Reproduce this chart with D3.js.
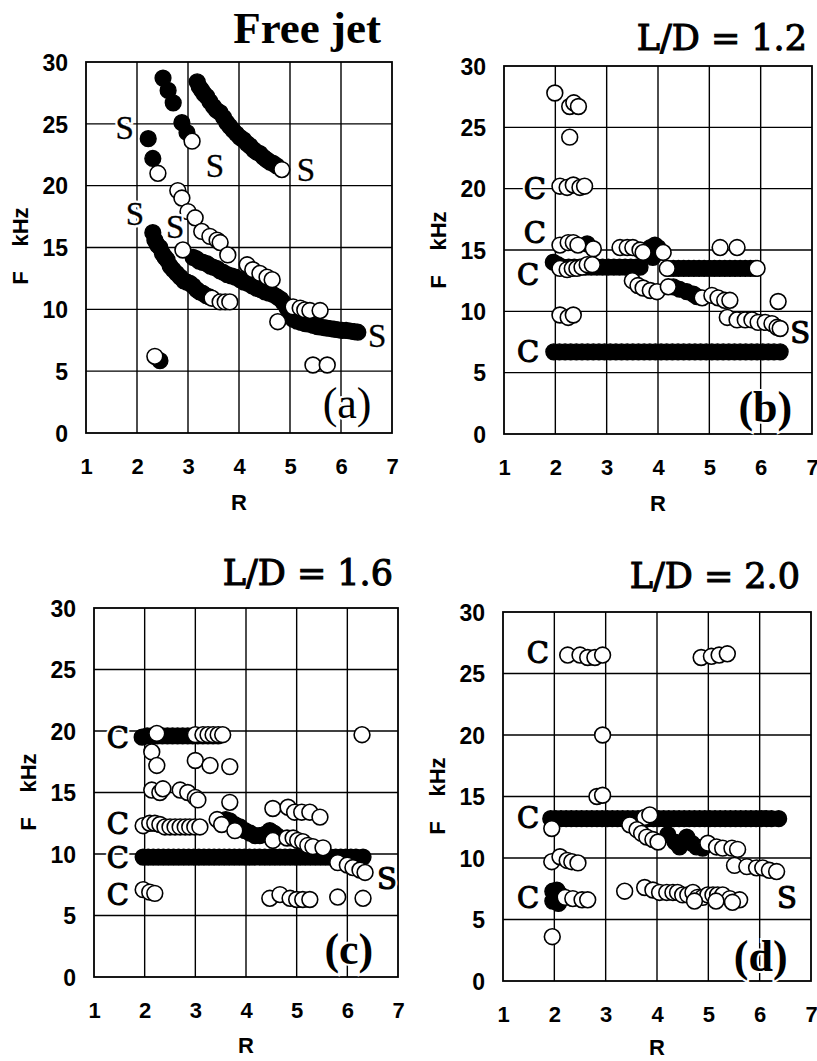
<!DOCTYPE html>
<html>
<head>
<meta charset="utf-8">
<script src="https://cdn.jsdelivr.net/npm/d3@7"></script>
<style>
  html, body { margin: 0; padding: 0; background: #fff; }
  svg { display: block; }
</style>
</head>
<body>
<svg id="chart" width="817" height="1061"></svg>
<script>
// ---------------- DATA ----------------
const xTicks = [1, 2, 3, 4, 5, 6, 7];
const yTicks = [0, 5, 10, 15, 20, 25, 30];
const panelTitles = ["Free jet", "L/D = 1.2", "L/D = 1.6", "L/D = 2.0"];
const panelTags = ["(a)", "(b)", "(c)", "(d)"];
const xLabel = "R";
const yLabelF = "F";
const yLabelUnit = "kHz";

// (a) Free jet : [R, F kHz]
const aFilled = [
  [2.51,28.7],[2.61,27.7],[2.71,26.7],[2.88,25.1],[2.98,24.3],
  [2.22,23.8],[2.31,22.2],
  [3.18,28.4],[3.22,28.0],[3.27,27.7],[3.32,27.4],[3.37,27.2],[3.43,26.8],[3.50,26.4],[3.56,26.1],
  [3.63,25.9],[3.70,25.5],[3.76,25.1],[3.82,24.8],[3.88,24.5],[3.95,24.2],[4.02,23.9],[4.09,23.7],
  [4.16,23.4],[4.22,23.2],[4.29,22.9],[4.35,22.7],[4.41,22.6],[4.48,22.3],[4.54,22.1],[4.61,21.9],
  [4.67,21.8],[4.74,21.6],
  [2.31,16.2],[2.35,15.6],[2.40,15.2],[2.45,15.0],[2.50,14.5],[2.55,14.2],[2.59,14.0],[2.65,13.5],
  [2.71,13.2],[2.78,12.9],[2.85,12.6],[2.92,12.3],[2.98,12.2],[3.04,12.1],[3.10,11.9],[3.17,11.6],
  [3.23,11.4],[3.29,11.3],[3.36,11.1],[3.42,11.0],
  [3.10,14.2],[3.16,14.1],[3.22,13.9],[3.29,13.8],[3.37,13.7],[3.44,13.5],[3.50,13.4],[3.57,13.3],
  [3.63,13.1],[3.69,13.0],[3.77,12.8],[3.85,12.7],[3.93,12.6],[4.02,12.4],[4.10,12.2],[4.18,12.1],
  [4.26,11.9],[4.35,11.7],[4.43,11.6],[4.51,11.4],[4.59,11.3],[4.67,11.2],[4.75,11.0],[4.82,10.8],
  [4.88,10.5],[4.94,10.1],[5.00,9.7],[5.06,9.2],[5.14,9.05],[5.22,8.95],[5.30,8.85],[5.38,8.8],
  [5.46,8.7],[5.54,8.6],[5.62,8.55],[5.70,8.5],[5.78,8.45],[5.86,8.4],[5.94,8.35],[6.02,8.3],
  [6.10,8.3],[6.18,8.25],[6.26,8.2],[6.33,8.15],
  [2.45,5.85]
];
const aOpen = [
  [3.08,23.6],[2.41,21.0],[4.84,21.3],
  [2.80,19.6],[2.88,19.0],[3.00,17.9],[3.14,17.4],[3.27,16.3],[3.43,15.9],[3.57,15.6],[3.63,15.4],
  [3.78,14.4],[4.16,13.6],[4.27,13.2],[4.41,12.9],[4.55,12.6],[4.65,12.4],
  [2.90,14.8],
  [3.47,10.9],[3.63,10.6],[3.73,10.6],[3.82,10.6],
  [5.06,10.2],[5.20,10.1],[5.29,9.95],[5.39,9.9],[5.59,9.9],
  [4.76,9.0],
  [2.35,6.2],
  [5.45,5.5],[5.73,5.5]
];
const aNotes = [
  {t:"S", r:1.76, f:24.7},{t:"S", r:3.53, f:21.7},{t:"S", r:5.31, f:21.3},
  {t:"S", r:1.96, f:17.8},{t:"S", r:2.75, f:16.7},{t:"S", r:6.71, f:7.9}
];

// (b) L/D = 1.2
const bFilled = [
  [1.97,6.7],[2.08,6.7],[2.19,6.7],[2.30,6.7],[2.41,6.7],[2.52,6.7],[2.63,6.7],[2.74,6.7],[2.85,6.7],
  [2.96,6.7],[3.07,6.7],[3.18,6.7],[3.29,6.7],[3.40,6.7],[3.51,6.7],[3.62,6.7],[3.73,6.7],[3.84,6.7],
  [3.95,6.7],[4.06,6.7],[4.17,6.7],[4.28,6.7],[4.39,6.7],[4.50,6.7],[4.61,6.7],[4.72,6.7],[4.83,6.7],
  [4.94,6.7],[5.05,6.7],[5.16,6.7],[5.27,6.7],[5.38,6.7],[5.49,6.7],[5.60,6.7],[5.71,6.7],[5.82,6.7],
  [5.93,6.7],[6.04,6.7],[6.15,6.7],[6.26,6.7],[6.38,6.7],
  [1.96,14.0],[2.05,13.8],[2.15,13.6],[2.26,13.6],[2.37,13.6],[2.48,13.6],[2.59,13.6],[2.70,13.6],
  [2.81,13.6],[2.92,13.6],[3.03,13.6],[3.14,13.6],[3.25,13.6],[3.36,13.6],[3.47,13.6],[3.58,13.6],[3.65,13.6],
  [2.62,15.5],
  [3.85,15.2],[3.94,15.4],[4.00,15.2],[3.90,14.4],
  [4.20,13.5],[4.30,13.5],[4.40,13.5],[4.50,13.5],[4.60,13.5],[4.70,13.5],[4.80,13.5],[4.90,13.5],
  [5.00,13.5],[5.10,13.5],[5.20,13.5],[5.30,13.5],[5.40,13.5],[5.50,13.5],[5.60,13.5],[5.70,13.5],
  [5.80,13.5],[5.90,13.5],
  [4.30,12.0],[4.42,11.8],[4.56,11.6],[4.69,11.4],[4.76,11.2]
];
const bOpen = [
  [1.99,27.8],[2.28,26.7],[2.36,27.0],[2.45,26.7],[2.28,24.2],
  [2.09,20.2],[2.23,20.1],[2.35,20.3],[2.48,20.1],[2.57,20.2],
  [2.09,15.4],[2.25,15.6],[2.35,15.6],[2.44,15.4],[2.74,15.1],
  [2.09,13.5],[2.23,13.4],[2.33,13.5],[2.42,13.5],[2.52,13.6],[2.62,13.8],[2.72,13.8],
  [3.26,15.2],[3.40,15.2],[3.51,15.2],[3.65,15.0],[3.71,14.8],
  [4.10,14.8],[4.18,13.5],[5.93,13.5],
  [5.21,15.2],[5.54,15.2],
  [3.50,12.5],[3.61,12.1],[3.71,11.9],[3.85,11.7],[3.98,11.6],[4.20,12.0],
  [4.86,11.1],[5.05,11.3],[5.17,11.1],[5.30,10.9],[5.40,10.9],
  [5.35,9.5],[5.54,9.3],[5.70,9.3],[5.83,9.3],[5.95,9.1],[6.09,9.1],[6.22,9.0],[6.32,8.7],[6.38,8.6],
  [6.34,10.8],
  [2.09,9.7],[2.25,9.5],[2.35,9.7]
];
const bNotes = [
  {t:"C", r:1.60, f:20.0},{t:"C", r:1.60, f:16.4},{t:"C", r:1.47, f:13.0},
  {t:"C", r:1.47, f:6.7},{t:"S", r:6.77, f:8.3}
];

// (c) L/D = 1.6
const cFilled = [
  [1.95,19.5],[2.05,19.6],[2.15,19.6],[2.25,19.6],[2.35,19.6],[2.45,19.6],[2.55,19.6],[2.65,19.6],
  [2.75,19.6],[2.85,19.6],[2.95,19.6],[3.05,19.6],[3.15,19.6],[3.25,19.6],[3.35,19.6],[3.45,19.6],
  [3.60,12.8],[3.68,12.7],[3.78,12.4],[3.88,12.2],[3.98,11.9],[4.08,11.7],[4.18,11.5],[4.27,11.5],
  [4.37,11.6],[4.47,11.9],[4.55,11.7],[4.61,11.5],
  [1.97,9.75],[2.07,9.75],[2.17,9.75],[2.27,9.75],[2.37,9.75],[2.47,9.75],[2.57,9.75],[2.67,9.75],
  [2.77,9.75],[2.87,9.75],[2.97,9.75],[3.07,9.75],[3.17,9.75],[3.27,9.75],[3.37,9.75],[3.47,9.75],
  [3.57,9.75],[3.67,9.75],[3.77,9.75],[3.87,9.75],[3.97,9.75],[4.07,9.75],[4.17,9.75],[4.27,9.75],
  [4.37,9.75],[4.47,9.75],[4.57,9.75],[4.67,9.75],[4.77,9.75],[4.87,9.75],[4.97,9.75],[5.07,9.75],
  [5.17,9.75],[5.27,9.75],[5.37,9.75],[5.47,9.75],[5.57,9.75],[5.67,9.75],[5.77,9.75],[5.87,9.75],
  [5.97,9.75],[6.07,9.75],[6.17,9.75],[6.31,9.75]
];
const cOpen = [
  [2.24,19.8],[3.00,19.7],[3.15,19.7],[3.25,19.7],[3.35,19.7],[3.45,19.7],[3.54,19.7],[6.29,19.7],
  [2.14,18.3],[2.24,17.2],[3.00,17.6],[3.29,17.2],[3.68,17.1],
  [2.14,15.2],[2.30,15.0],[2.36,15.3],[2.70,15.2],[2.85,15.0],[3.00,14.6],[3.05,14.4],[3.68,14.2],
  [1.97,12.3],[2.10,12.5],[2.20,12.5],[2.30,12.4],[2.40,12.2],[2.50,12.2],[2.60,12.2],[2.70,12.2],
  [2.80,12.2],[2.89,12.2],[2.99,12.2],[3.09,12.2],
  [3.43,12.8],[3.52,12.4],[3.78,11.9],
  [4.53,11.1],[4.81,11.3],[4.93,11.3],[5.02,11.1],[5.12,11.0],[5.22,10.7],[5.32,10.6],[5.52,10.5],
  [4.53,13.7],[4.83,13.8],[4.96,13.4],[5.10,13.4],[5.26,13.4],[5.46,13.0],
  [5.81,9.3],[6.00,9.1],[6.11,8.9],[6.25,8.7],[6.35,8.5],
  [1.97,7.1],[2.10,6.9],[2.20,6.8],
  [4.47,6.4],[4.67,6.7],[4.87,6.4],[5.00,6.3],[5.12,6.3],[5.26,6.3],[5.81,6.5],[6.31,6.4]
];
const cNotes = [
  {t:"C", r:1.47, f:19.5},{t:"C", r:1.47, f:12.5},{t:"C", r:1.47, f:9.75},
  {t:"C", r:1.47, f:6.7},{t:"S", r:6.78, f:8.0}
];

// (d) L/D = 2.0
const dFilled = [
  [1.93,13.2],[2.03,13.2],[2.13,13.2],[2.23,13.2],[2.33,13.2],[2.43,13.2],[2.53,13.2],[2.63,13.2],
  [2.73,13.2],[2.83,13.2],[2.93,13.2],[3.03,13.2],[3.13,13.2],[3.23,13.2],[3.33,13.2],[3.43,13.2],
  [3.53,13.2],[3.63,13.2],[3.73,13.2],[3.83,13.2],[3.93,13.2],[4.03,13.2],[4.13,13.2],[4.23,13.2],
  [4.33,13.2],[4.43,13.2],[4.53,13.2],[4.63,13.2],[4.73,13.2],[4.83,13.2],[4.93,13.2],[5.03,13.2],
  [5.13,13.2],[5.23,13.2],[5.33,13.2],[5.43,13.2],[5.53,13.2],[5.63,13.2],[5.73,13.2],[5.83,13.2],
  [5.93,13.2],[6.03,13.2],[6.13,13.2],[6.23,13.2],[6.37,13.2],
  [4.21,11.9],[4.35,11.3],[4.44,10.9],[4.58,11.7],[4.68,11.2],[4.77,10.9],[4.89,10.8],
  [1.97,7.3],[2.05,7.4],[2.12,7.0],[1.97,6.5],[2.08,6.3]
];
const dOpen = [
  [2.26,26.5],[2.50,26.5],[2.65,26.3],[2.79,26.3],[2.94,26.5],
  [4.86,26.3],[5.06,26.4],[5.21,26.5],[5.37,26.6],
  [2.94,20.0],[2.83,15.0],[2.94,15.1],
  [1.95,12.4],[3.76,13.3],[3.86,13.5],
  [3.47,12.7],[3.61,12.3],[3.70,12.0],[3.80,11.7],[3.92,11.5],[4.02,11.3],
  [4.99,11.2],[5.16,10.9],[5.28,10.8],[5.46,10.8],[5.57,10.7],
  [5.51,9.4],[5.75,9.3],[5.94,9.2],[6.06,9.2],[6.19,9.0],[6.33,8.9],
  [1.95,9.7],[2.11,10.1],[2.25,9.8],[2.34,9.7],[2.46,9.6],
  [2.21,6.8],[2.36,6.7],[2.54,6.6],[2.65,6.6],
  [3.37,7.3],
  [3.76,7.6],[3.92,7.4],[4.05,7.2],[4.19,7.2],[4.31,7.2],[4.40,7.2],[4.50,7.0],[4.60,7.0],[4.70,7.2],
  [4.79,6.8],[4.89,6.8],[4.99,7.0],[5.09,7.0],[5.18,7.0],[5.28,7.0],[5.42,6.7],[5.61,6.6],
  [4.73,6.5],[5.15,6.5],[5.47,6.4],
  [1.96,3.6]
];
const dNotes = [
  {t:"C", r:1.68, f:26.7},{t:"C", r:1.49, f:13.3},{t:"C", r:1.49, f:6.8},{t:"S", r:6.53, f:6.8}
];
const tagPos = [[6.12,2.4],[6.09,2.2],[6.03,2.2],[6.02,2.0]];

// ---------------- LAYOUT ----------------
const panels = [
  {left:86,  right:392, top:62,  bottom:433, filled:aFilled, open:aOpen, notes:aNotes,
   titleX:381, titleY:43, titleFont:"Liberation Serif", titleSize:45, titleWeight:"bold", titleStroke:0,
   noteFont:"Liberation Serif", noteSize:33, noteStroke:0.3, tagWeight:"normal", rOff:77},
  {left:504, right:812, top:66,  bottom:434, filled:bFilled, open:bOpen, notes:bNotes,
   titleX:807, titleY:50, titleFont:"DejaVu Serif", titleSize:35, titleWeight:"normal", titleStroke:1.1,
   noteFont:"DejaVu Serif", noteSize:29, noteStroke:1.1, tagWeight:"bold", rOff:77},
  {left:94,  right:398, top:608, bottom:977, filled:cFilled, open:cOpen, notes:cNotes,
   titleX:393, titleY:585, titleFont:"DejaVu Serif", titleSize:35, titleWeight:"normal", titleStroke:1.1,
   noteFont:"DejaVu Serif", noteSize:29, noteStroke:1.1, tagWeight:"bold", rOff:76},
  {left:503, right:811, top:612, bottom:981, filled:dFilled, open:dOpen, notes:dNotes,
   titleX:800, titleY:588, titleFont:"DejaVu Serif", titleSize:35, titleWeight:"normal", titleStroke:1.1,
   noteFont:"DejaVu Serif", noteSize:29, noteStroke:1.1, tagWeight:"bold", rOff:74}
];

const svg = d3.select("#chart");
const sans = "'Liberation Sans', Arial, sans-serif";
const markR = 7.9;

panels.forEach((p, i) => {
  const x = d3.scaleLinear().domain([1, 7]).range([p.left, p.right]);
  const y = d3.scaleLinear().domain([0, 30]).range([p.bottom, p.top]);
  const g = svg.append("g");

  // grid
  g.append("g").selectAll("line").data(xTicks.slice(1, -1)).join("line")
    .attr("x1", d => x(d)).attr("x2", d => x(d))
    .attr("y1", p.top).attr("y2", p.bottom)
    .attr("stroke", "#000").attr("stroke-width", 1.4);
  g.append("g").selectAll("line").data(yTicks.slice(1, -1)).join("line")
    .attr("x1", p.left).attr("x2", p.right)
    .attr("y1", d => y(d)).attr("y2", d => y(d))
    .attr("stroke", "#000").attr("stroke-width", 1.4);
  g.append("rect")
    .attr("x", p.left).attr("y", p.top)
    .attr("width", p.right - p.left).attr("height", p.bottom - p.top)
    .attr("fill", "none").attr("stroke", "#000").attr("stroke-width", 1.8);

  // axes (labels only, via d3 axis)
  const xAxis = d3.axisBottom(x).tickValues(xTicks).tickSize(0).tickPadding(0).tickFormat(d3.format("d"));
  const yAxis = d3.axisLeft(y).tickValues(yTicks).tickSize(0).tickPadding(0).tickFormat(d3.format("d"));
  const gx = g.append("g").attr("transform", `translate(0,${p.bottom})`).call(xAxis);
  gx.select(".domain").remove();
  gx.selectAll("text").attr("y", 41).attr("dy", 0)
    .style("font-family", sans).style("font-weight", "bold").style("font-size", "22px").attr("fill", "#000");
  const gy = g.append("g").attr("transform", `translate(${p.left},0)`).call(yAxis);
  gy.select(".domain").remove();
  gy.selectAll("text").attr("x", -18).attr("dy", "0.36em")
    .style("font-family", sans).style("font-weight", "bold").style("font-size", "23px").attr("fill", "#000");

  // axis titles
  g.append("text").attr("x", (p.left + p.right) / 2).attr("y", p.bottom + p.rOff)
    .attr("text-anchor", "middle").style("font-family", sans).style("font-weight", "bold")
    .style("font-size", "22px").text(xLabel);
  const yt = g.append("g").attr("transform", `translate(${p.left - 58},0) rotate(-90)`);
  yt.append("text").attr("x", -(p.top + 216)).attr("y", 0).attr("text-anchor", "middle")
    .style("font-family", sans).style("font-weight", "bold").style("font-size", "22px").text(yLabelF);
  yt.append("text").attr("x", -(p.top + 165)).attr("y", 0).attr("text-anchor", "middle")
    .style("font-family", sans).style("font-weight", "bold").style("font-size", "22px").text(yLabelUnit);

  // title
  g.append("text").attr("x", p.titleX).attr("y", p.titleY).attr("text-anchor", "end")
    .style("font-family", `'${p.titleFont}', serif`).style("font-weight", p.titleWeight)
    .style("font-size", p.titleSize + "px")
    .attr("stroke", "#000").attr("stroke-width", p.titleStroke)
    .text(panelTitles[i]);

  // markers
  const mg = g.append("g");
  mg.selectAll("circle.f").data(p.filled).join("circle")
    .attr("cx", d => x(d[0])).attr("cy", d => y(d[1])).attr("r", markR)
    .attr("fill", "#000").attr("stroke", "#000").attr("stroke-width", 1.4);
  mg.selectAll("circle.o").data(p.open).join("circle")
    .attr("cx", d => x(d[0])).attr("cy", d => y(d[1])).attr("r", markR)
    .attr("fill", "#fff").attr("stroke", "#000").attr("stroke-width", 1.6);

  // annotations (white halo, then glyph)
  const ng = g.append("g");
  const noteText = sel => sel
    .attr("x", d => x(d.r)).attr("y", d => y(d.f)).attr("dy", "0.36em")
    .attr("text-anchor", "middle")
    .style("font-family", `'${p.noteFont}', serif`).style("font-size", p.noteSize + "px")
    .text(d => d.t);
  ng.append("g").selectAll("text").data(p.notes).join("text").call(noteText)
    .attr("fill", "#fff").attr("stroke", "#fff").attr("stroke-width", 5);
  ng.append("g").selectAll("text").data(p.notes).join("text").call(noteText)
    .attr("fill", "#000").attr("stroke", "#000").attr("stroke-width", p.noteStroke);

  // panel tag
  g.append("text").attr("x", x(tagPos[i][0])).attr("y", y(tagPos[i][1])).attr("dy", "0.33em")
    .attr("text-anchor", "middle")
    .style("font-family", "'Liberation Serif', serif").style("font-weight", p.tagWeight)
    .style("font-size", "44px")
    .attr("stroke", "#fff").attr("stroke-width", 4).attr("paint-order", "stroke")
    .attr("fill", "#000").text(panelTags[i]);
});
</script>
</body>
</html>
